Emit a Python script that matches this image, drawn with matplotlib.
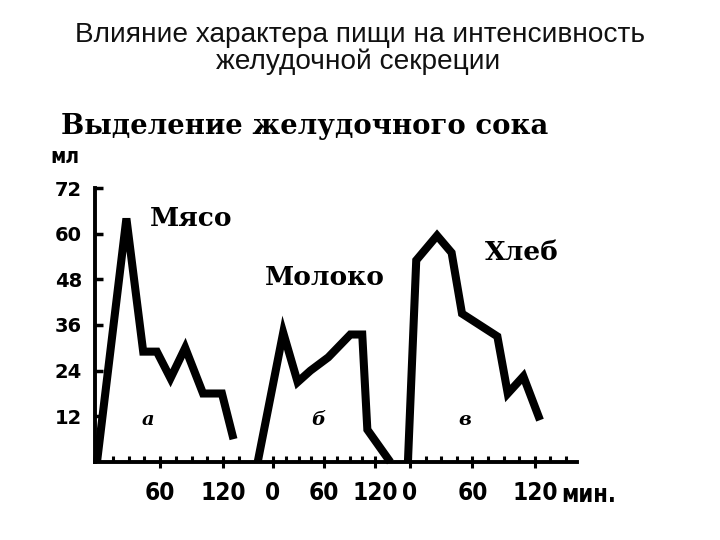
import numpy as np
import matplotlib
matplotlib.use("Agg")
import matplotlib.pyplot as plt

# values (minutes from each panel's own zero, ml of juice)
meat_t = [0, 28, 44, 57, 70, 84, 101, 119, 130]
meat_v = [0, 64, 29, 29, 22, 30, 18, 18, 6]
milk_t = [-18, 12, 29, 44, 65, 91, 105, 111, 138]
milk_v = [0, 34, 21, 24, 27.5, 33.5, 33.5, 8.5, 0]
bread_t = [-2, 6, 26, 40, 50, 84, 94, 109, 125]
bread_v = [0, 53, 59.5, 55, 39, 33, 18, 22.5, 11]

foods = ["Мясо", "Молоко", "Хлеб"]
panel_letters = ["а", "б", "в"]
y_ticks = [12, 24, 36, 48, 60, 72]

title_1 = "Влияние характера пищи на интенсивность"
title_2 = "желудочной секреции"
subtitle = "Выделение желудочного сока"

# the three panels share one time axis; each has its own zero and stretch
# (as in the hand-drawn original), x is in drawing units
panel_zero = [97, 273, 410]
panel_scale = [1.05, 0.85, 1.04]

fig = plt.figure(figsize=(7.2, 5.4), dpi=100)
ax = fig.add_axes([94.5 / 720, 78 / 540, 482.5 / 720, 274 / 540])

series = [(meat_t, meat_v), (milk_t, milk_v), (bread_t, bread_v)]
for (t, v), x0, k in zip(series, panel_zero, panel_scale):
    ax.plot(x0 + k * np.array(t), v, color="black", lw=5.8,
            solid_joinstyle="miter", solid_capstyle="butt", clip_on=False)

ax.set_xlim(94.5, 577)
ax.set_ylim(0, 72)

for side in ["top", "right"]:
    ax.spines[side].set_visible(False)
for side in ["left", "bottom"]:
    ax.spines[side].set_linewidth(2.8)

ax.set_yticks(y_ticks)
ax.set_yticklabels([str(v) for v in y_ticks], fontsize=14, fontweight="bold")
ax.tick_params(axis="y", direction="in", length=6, width=2.5, pad=9)

# major ticks (0/60/120 of each panel), small ticks every 15 min
major_pos, major_lab, minor_pos = [], [], []
for i, (x0, k) in enumerate(zip(panel_zero, panel_scale)):
    marks = [60, 120] if i == 0 else [0, 60, 120]
    for m in marks:
        major_pos.append(x0 + k * m)
        major_lab.append(str(m))
    start = -15 if i == 1 else 15
    stop = 165 if i == 2 else 150
    for m in range(start, stop, 15):
        if m not in marks:
            minor_pos.append(x0 + k * m)
ax.set_xticks(major_pos)
ax.set_xticklabels(major_lab, fontsize=17.5, fontweight="bold",
                   family="DejaVu Sans", fontstretch="condensed")
ax.set_xticks(minor_pos, minor=True)
ax.tick_params(axis="x", which="major", direction="inout", length=9, width=2.2, pad=9)
ax.tick_params(axis="x", which="minor", direction="in", length=4, width=2.2)

# food names and panel letters
food_xy = [(150, 64), (265, 48.4), (485, 55)]
for name, (x, y) in zip(foods, food_xy):
    ax.text(x, y, name, fontsize=19, fontweight="bold", family="DejaVu Serif",
            ha="left", va="center")
for letter, x in zip(panel_letters, [148, 318, 465]):
    ax.text(x, 11, letter, fontsize=14, fontweight="bold", style="italic",
            family="DejaVu Serif", ha="center", va="center")

fig.text(50 / 720, 1 - 157 / 540, "мл", fontsize=15, fontweight="bold",
         fontstretch="condensed", ha="left", va="center")
fig.text(561 / 720, 1 - 495 / 540, "мин.", fontsize=17, fontweight="bold",
         fontstretch="condensed", ha="left", va="center")

fig.text(0.5, 1 - 35 / 540, title_1, fontsize=20.2, family="Liberation Sans",
         ha="center", va="center", color="#111111")
fig.text(0.497, 1 - 62 / 540, title_2, fontsize=20.2, family="Liberation Sans",
         ha="center", va="center", color="#111111")
fig.text(305 / 720, 1 - 126 / 540, subtitle, fontsize=19.8, fontweight="bold",
         family="DejaVu Serif", ha="center", va="center")

fig.savefig("out.png", dpi=100)
